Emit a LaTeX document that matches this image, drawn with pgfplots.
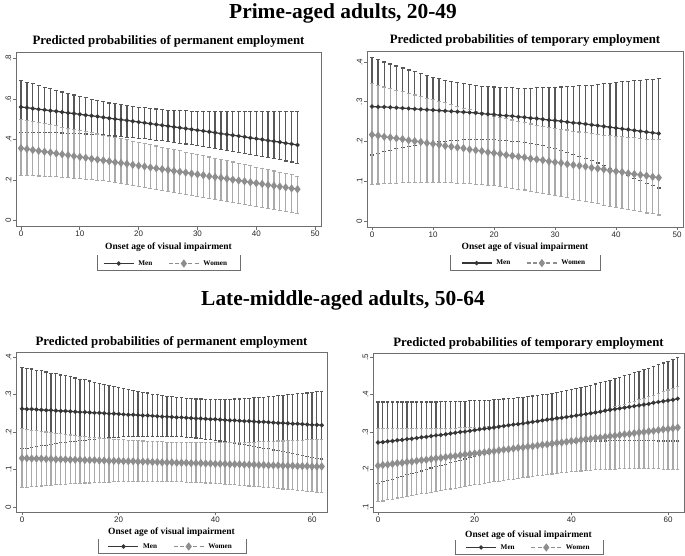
\documentclass[border=0pt]{standalone}
\usepackage{fontspec}
\setmainfont{Liberation Serif}
\setsansfont{Liberation Sans}
\usepackage{pgfplots}
\usepackage{pgfplotstable}
\pgfplotsset{compat=1.18}

\definecolor{menline}{HTML}{363636}
\definecolor{menbar}{HTML}{585858}
\definecolor{wline}{HTML}{8E8E8E}
\definecolor{wbar}{HTML}{AAAAAA}
\definecolor{framec}{HTML}{6E6E6E}

\pgfplotstableread{
x my mlo mhi wy wlo whi
0 0.560 0.436 0.690 0.357 0.222 0.500
1 0.557 0.436 0.682 0.353 0.222 0.494
2 0.553 0.435 0.674 0.348 0.221 0.489
3 0.549 0.435 0.666 0.344 0.220 0.483
4 0.546 0.434 0.658 0.340 0.219 0.478
5 0.542 0.434 0.650 0.336 0.218 0.472
6 0.539 0.433 0.642 0.331 0.216 0.467
7 0.535 0.432 0.634 0.327 0.214 0.461
8 0.531 0.431 0.626 0.323 0.212 0.455
9 0.528 0.430 0.619 0.318 0.210 0.450
10 0.524 0.429 0.611 0.314 0.208 0.444
11 0.520 0.427 0.605 0.310 0.205 0.438
12 0.517 0.425 0.598 0.305 0.202 0.433
13 0.513 0.424 0.592 0.301 0.199 0.427
14 0.509 0.422 0.586 0.297 0.196 0.421
15 0.505 0.420 0.580 0.293 0.192 0.415
16 0.501 0.417 0.576 0.288 0.188 0.409
17 0.498 0.415 0.571 0.284 0.184 0.404
18 0.494 0.412 0.567 0.280 0.179 0.398
19 0.490 0.410 0.563 0.275 0.175 0.392
20 0.486 0.407 0.559 0.271 0.170 0.386
21 0.482 0.404 0.556 0.267 0.165 0.380
22 0.478 0.400 0.553 0.262 0.160 0.374
23 0.474 0.397 0.550 0.258 0.155 0.368
24 0.470 0.393 0.547 0.254 0.150 0.362
25 0.466 0.390 0.545 0.250 0.145 0.356
26 0.462 0.386 0.543 0.245 0.140 0.350
27 0.458 0.382 0.542 0.241 0.135 0.344
28 0.454 0.378 0.541 0.237 0.130 0.338
29 0.450 0.374 0.540 0.232 0.125 0.332
30 0.446 0.370 0.539 0.228 0.120 0.326
31 0.442 0.365 0.538 0.224 0.115 0.320
32 0.438 0.361 0.538 0.219 0.110 0.314
33 0.434 0.356 0.537 0.215 0.105 0.307
34 0.429 0.352 0.537 0.211 0.100 0.301
35 0.425 0.347 0.537 0.207 0.095 0.295
36 0.421 0.342 0.537 0.202 0.090 0.289
37 0.417 0.337 0.537 0.198 0.085 0.283
38 0.413 0.332 0.537 0.194 0.080 0.277
39 0.408 0.327 0.537 0.189 0.075 0.270
40 0.404 0.322 0.537 0.185 0.070 0.264
41 0.400 0.316 0.537 0.181 0.065 0.258
42 0.395 0.311 0.537 0.176 0.060 0.251
43 0.391 0.305 0.537 0.172 0.055 0.245
44 0.387 0.300 0.537 0.168 0.050 0.239
45 0.382 0.294 0.538 0.164 0.045 0.232
46 0.378 0.289 0.538 0.159 0.041 0.226
47 0.373 0.283 0.538 0.155 0.036 0.219
}\tabTL

\pgfplotstableread{
x my mlo mhi wy wlo whi
0 0.288 0.166 0.411 0.217 0.092 0.345
1 0.287 0.170 0.406 0.215 0.093 0.341
2 0.287 0.174 0.400 0.212 0.094 0.337
3 0.286 0.178 0.395 0.210 0.095 0.333
4 0.285 0.182 0.390 0.208 0.095 0.329
5 0.284 0.185 0.385 0.206 0.096 0.325
6 0.283 0.188 0.380 0.203 0.096 0.321
7 0.282 0.191 0.375 0.201 0.097 0.317
8 0.281 0.194 0.371 0.199 0.097 0.313
9 0.280 0.196 0.366 0.196 0.097 0.309
10 0.279 0.198 0.362 0.194 0.097 0.305
11 0.278 0.200 0.358 0.192 0.097 0.301
12 0.277 0.201 0.354 0.189 0.096 0.297
13 0.276 0.202 0.351 0.187 0.096 0.292
14 0.275 0.203 0.348 0.185 0.095 0.288
15 0.274 0.204 0.345 0.183 0.095 0.284
16 0.273 0.204 0.343 0.180 0.094 0.280
17 0.272 0.205 0.341 0.178 0.092 0.276
18 0.270 0.205 0.339 0.176 0.091 0.272
19 0.269 0.204 0.338 0.173 0.090 0.268
20 0.268 0.204 0.337 0.171 0.089 0.264
21 0.266 0.203 0.336 0.169 0.087 0.261
22 0.265 0.202 0.335 0.166 0.085 0.257
23 0.264 0.201 0.335 0.164 0.082 0.254
24 0.262 0.199 0.334 0.162 0.080 0.250
25 0.261 0.198 0.334 0.160 0.078 0.247
26 0.259 0.195 0.334 0.157 0.075 0.244
27 0.258 0.193 0.335 0.155 0.072 0.241
28 0.256 0.190 0.335 0.153 0.070 0.238
29 0.254 0.186 0.336 0.150 0.067 0.236
30 0.253 0.183 0.336 0.148 0.064 0.233
31 0.251 0.178 0.337 0.146 0.061 0.231
32 0.249 0.173 0.338 0.143 0.058 0.229
33 0.247 0.168 0.339 0.141 0.055 0.226
34 0.246 0.163 0.340 0.139 0.052 0.224
35 0.244 0.158 0.341 0.137 0.049 0.222
36 0.242 0.152 0.342 0.134 0.046 0.220
37 0.240 0.146 0.344 0.132 0.043 0.218
38 0.238 0.140 0.345 0.130 0.040 0.216
39 0.236 0.133 0.347 0.127 0.037 0.215
40 0.234 0.127 0.348 0.125 0.034 0.213
41 0.232 0.121 0.350 0.123 0.031 0.212
42 0.230 0.114 0.351 0.120 0.029 0.210
43 0.228 0.108 0.353 0.118 0.026 0.209
44 0.226 0.102 0.354 0.116 0.023 0.208
45 0.224 0.095 0.356 0.114 0.020 0.206
46 0.222 0.089 0.357 0.111 0.018 0.205
47 0.220 0.083 0.359 0.109 0.015 0.204
}\tabTR

\pgfplotstableread{
x my mlo mhi wy wlo whi
0 0.262 0.155 0.373 0.130 0.052 0.209
1 0.261 0.157 0.370 0.130 0.053 0.207
2 0.261 0.159 0.368 0.129 0.054 0.205
3 0.260 0.161 0.365 0.129 0.055 0.204
4 0.259 0.163 0.363 0.129 0.056 0.202
5 0.258 0.165 0.360 0.128 0.057 0.200
6 0.258 0.167 0.357 0.128 0.058 0.198
7 0.257 0.169 0.355 0.127 0.059 0.197
8 0.256 0.171 0.352 0.127 0.060 0.195
9 0.256 0.172 0.350 0.127 0.061 0.194
10 0.255 0.174 0.347 0.126 0.062 0.192
11 0.254 0.175 0.344 0.126 0.063 0.191
12 0.253 0.177 0.341 0.126 0.063 0.189
13 0.253 0.178 0.339 0.125 0.064 0.188
14 0.252 0.180 0.336 0.125 0.064 0.186
15 0.251 0.181 0.333 0.125 0.065 0.185
16 0.251 0.182 0.330 0.124 0.065 0.184
17 0.250 0.183 0.327 0.124 0.066 0.183
18 0.249 0.184 0.325 0.123 0.066 0.182
19 0.249 0.185 0.322 0.123 0.067 0.181
20 0.248 0.186 0.319 0.123 0.067 0.180
21 0.247 0.187 0.316 0.122 0.067 0.179
22 0.246 0.187 0.314 0.122 0.067 0.178
23 0.246 0.188 0.311 0.122 0.068 0.178
24 0.245 0.188 0.309 0.121 0.068 0.177
25 0.244 0.189 0.306 0.121 0.068 0.176
26 0.244 0.189 0.304 0.121 0.068 0.175
27 0.243 0.189 0.301 0.120 0.068 0.175
28 0.242 0.189 0.299 0.120 0.068 0.174
29 0.241 0.189 0.297 0.119 0.068 0.174
30 0.241 0.189 0.295 0.119 0.068 0.173
31 0.240 0.188 0.294 0.119 0.068 0.173
32 0.239 0.188 0.292 0.118 0.067 0.172
33 0.239 0.187 0.291 0.118 0.067 0.172
34 0.238 0.186 0.290 0.118 0.066 0.171
35 0.237 0.185 0.289 0.117 0.066 0.171
36 0.236 0.184 0.288 0.117 0.065 0.171
37 0.236 0.183 0.288 0.117 0.065 0.171
38 0.235 0.181 0.287 0.116 0.064 0.171
39 0.234 0.180 0.287 0.116 0.064 0.171
40 0.234 0.178 0.287 0.115 0.063 0.171
41 0.233 0.176 0.287 0.115 0.062 0.171
42 0.232 0.174 0.287 0.115 0.061 0.171
43 0.231 0.172 0.287 0.114 0.060 0.172
44 0.231 0.170 0.288 0.114 0.059 0.172
45 0.230 0.168 0.288 0.114 0.058 0.172
46 0.229 0.166 0.289 0.113 0.057 0.172
47 0.229 0.164 0.290 0.113 0.056 0.173
48 0.228 0.162 0.291 0.113 0.055 0.173
49 0.227 0.159 0.292 0.112 0.054 0.174
50 0.227 0.157 0.293 0.112 0.053 0.174
51 0.226 0.155 0.294 0.111 0.052 0.175
52 0.225 0.152 0.295 0.111 0.051 0.175
53 0.224 0.150 0.297 0.111 0.050 0.176
54 0.224 0.147 0.298 0.110 0.048 0.176
55 0.223 0.145 0.299 0.110 0.047 0.177
56 0.222 0.143 0.300 0.110 0.046 0.177
57 0.222 0.140 0.302 0.109 0.045 0.178
58 0.221 0.138 0.303 0.109 0.043 0.178
59 0.220 0.135 0.304 0.109 0.042 0.179
60 0.219 0.133 0.306 0.108 0.041 0.179
61 0.219 0.130 0.307 0.108 0.039 0.180
62 0.218 0.128 0.309 0.108 0.038 0.180
}\tabBL

\pgfplotstableread{
x my mlo mhi wy wlo whi
0 0.272 0.163 0.380 0.210 0.114 0.309
1 0.273 0.167 0.380 0.212 0.116 0.309
2 0.275 0.171 0.380 0.213 0.119 0.309
3 0.276 0.174 0.380 0.215 0.121 0.309
4 0.278 0.178 0.380 0.217 0.124 0.309
5 0.279 0.182 0.380 0.218 0.126 0.309
6 0.281 0.186 0.380 0.220 0.128 0.309
7 0.282 0.189 0.380 0.221 0.130 0.309
8 0.284 0.193 0.380 0.223 0.133 0.309
9 0.286 0.196 0.380 0.225 0.135 0.309
10 0.287 0.200 0.380 0.226 0.137 0.309
11 0.289 0.204 0.380 0.228 0.139 0.309
12 0.291 0.207 0.380 0.230 0.141 0.309
13 0.292 0.211 0.381 0.231 0.144 0.310
14 0.294 0.214 0.381 0.233 0.146 0.310
15 0.296 0.218 0.381 0.235 0.148 0.310
16 0.298 0.221 0.381 0.236 0.150 0.310
17 0.300 0.224 0.382 0.238 0.152 0.311
18 0.301 0.228 0.382 0.240 0.155 0.311
19 0.303 0.231 0.383 0.241 0.157 0.312
20 0.305 0.234 0.383 0.243 0.159 0.312
21 0.307 0.237 0.384 0.244 0.161 0.313
22 0.309 0.240 0.385 0.246 0.163 0.314
23 0.310 0.242 0.385 0.248 0.165 0.314
24 0.312 0.245 0.386 0.249 0.167 0.315
25 0.314 0.248 0.387 0.251 0.169 0.316
26 0.316 0.250 0.388 0.253 0.171 0.317
27 0.318 0.252 0.389 0.254 0.173 0.318
28 0.320 0.255 0.390 0.256 0.174 0.319
29 0.321 0.257 0.392 0.258 0.176 0.321
30 0.323 0.259 0.393 0.259 0.178 0.322
31 0.325 0.261 0.394 0.261 0.180 0.323
32 0.327 0.262 0.396 0.262 0.182 0.325
33 0.329 0.264 0.398 0.264 0.183 0.326
34 0.331 0.265 0.399 0.266 0.185 0.328
35 0.333 0.267 0.401 0.267 0.187 0.330
36 0.335 0.268 0.403 0.269 0.188 0.332
37 0.337 0.269 0.406 0.271 0.190 0.334
38 0.338 0.270 0.408 0.272 0.191 0.336
39 0.340 0.271 0.410 0.274 0.193 0.338
40 0.342 0.272 0.413 0.276 0.194 0.340
41 0.344 0.273 0.416 0.277 0.195 0.343
42 0.346 0.274 0.419 0.279 0.196 0.346
43 0.348 0.274 0.422 0.281 0.197 0.348
44 0.350 0.275 0.425 0.282 0.198 0.351
45 0.352 0.276 0.428 0.284 0.199 0.354
46 0.354 0.276 0.431 0.285 0.200 0.357
47 0.357 0.276 0.435 0.287 0.200 0.360
48 0.359 0.277 0.438 0.289 0.201 0.363
49 0.361 0.277 0.442 0.290 0.201 0.367
50 0.363 0.277 0.446 0.292 0.202 0.370
51 0.365 0.277 0.450 0.294 0.202 0.374
52 0.367 0.277 0.454 0.295 0.202 0.378
53 0.369 0.277 0.458 0.297 0.202 0.382
54 0.371 0.277 0.462 0.299 0.202 0.386
55 0.373 0.277 0.466 0.300 0.202 0.390
56 0.375 0.277 0.470 0.302 0.202 0.394
57 0.378 0.277 0.475 0.303 0.202 0.398
58 0.380 0.276 0.479 0.305 0.202 0.403
59 0.382 0.276 0.484 0.307 0.201 0.407
60 0.384 0.276 0.488 0.308 0.201 0.412
61 0.386 0.276 0.493 0.310 0.201 0.416
62 0.389 0.276 0.498 0.312 0.201 0.421
}\tabBR

\pgfplotsset{
  panel/.style={
    scale only axis,
    anchor=south west,
    axis line style={framec, line width=0.8pt},
    tick style={framec, line width=0.7pt},
    tick align=outside,
    major tick length=3pt,
    xtick pos=bottom, ytick pos=left,
    ticklabel style={font=\sffamily\fontsize{8}{9}\selectfont, text=black!85},
    yticklabel style={rotate=90, anchor=south, inner sep=1.5pt},
    xticklabel style={inner sep=1.5pt},
    every axis title/.style={at={(0.5,1)}, anchor=center, font=\bfseries\fontsize{12.8}{14}\selectfont},
    every axis x label/.style={at={(0.5,0)}, anchor=center, font=\bfseries\fontsize{9.5}{11}\selectfont},
    legend style={draw=none, fill=none, anchor=center, legend columns=2,
      font=\bfseries\fontsize{7.2}{8}\selectfont, inner sep=0pt,
      /tikz/every odd column/.append style={column sep=2pt},
      /tikz/every even column/.append style={column sep=14pt}},
    legend image code/.code={\draw[mark repeat=2,mark phase=2,##1] plot coordinates {(0pt,0pt) (15pt,0pt) (30pt,0pt)};},
  },
  menbars/.style={draw=none, mark=none, forget plot,
    error bars/.cd, y dir=both, y explicit,
    error bar style={draw=menbar, solid, line width=1.25pt},
    error mark options={draw=menbar, solid, line width=1.1pt, mark size=#1, rotate=90}},
  wbars/.style={draw=none, mark=none, forget plot,
    error bars/.cd, y dir=both, y explicit,
    error bar style={draw=wbar, solid, line width=1.3pt},
    error mark options={draw=wbar, solid, line width=1.1pt, mark size=#1, rotate=90}},
  menl/.style={menline, line width=1.2pt, mark=*, mark size=1.5pt, mark options={solid, fill=menline}},
  wl/.style={wline, line width=1.2pt, dash pattern=on 4pt off 2.5pt, mark=diamond*, mark size=3.2pt, mark options={solid, fill=wline}},
}

\newcommand{\panelplots}[2]{%
  \addplot[menbars=#2] table[x=x, y=my, y error plus expr=\thisrow{mhi}-\thisrow{my}, y error minus expr=\thisrow{my}-\thisrow{mlo}] {#1};
  \addplot[wbars=#2] table[x=x, y=wy, y error plus expr=\thisrow{whi}-\thisrow{wy}, y error minus expr=\thisrow{wy}-\thisrow{wlo}] {#1};
  \addplot[menl] table[x=x, y=my] {#1};
  \addlegendentry{Men}
  \addplot[wl] table[x=x, y=wy] {#1};
  \addlegendentry{Women}
}

\begin{document}
\begin{tikzpicture}[x=1pt,y=1pt]
\path[use as bounding box] (0,0) rectangle (685,555);

\node[font=\bfseries\fontsize{21.4}{24}\selectfont] at (343,542) {Prime-aged adults, 20-49};
\node[font=\bfseries\fontsize{21.4}{24}\selectfont] at (343,255) {Late-middle-aged adults, 50-64};

% Top left
\begin{axis}[panel, at={(16pt,328.3pt)}, width=305pt, height=174pt,
  xmin=-0.85, xmax=51.0, ymin=-0.0296, ymax=0.8276,
  xtick={0,10,20,30,40,50}, xticklabels={0,10,20,30,40,50},
  ytick={0,0.2,0.4,0.6,0.8}, yticklabels={0,.2,.4,.6,.8},
  title={Predicted probabilities of permanent employment},
  title style={yshift=11.7pt},
  xlabel={Onset age of visual impairment},
  xlabel style={yshift=-20.5pt},
  legend style={at={(0.492,-0.2115)}}]
\panelplots{\tabTL}{2pt}
\end{axis}

% Top right
\begin{axis}[panel, at={(367pt,328pt)}, width=316pt, height=176pt,
  xmin=-0.82, xmax=50.98, ymin=-0.0151, ymax=0.4277,
  xtick={0,10,20,30,40,50}, xticklabels={0,10,20,30,40,50},
  ytick={0,0.1,0.2,0.3,0.4}, yticklabels={0,.1,.2,.3,.4},
  title={Predicted probabilities of temporary employment},
  title style={yshift=11pt},
  xlabel={Onset age of visual impairment},
  xlabel style={yshift=-20.5pt},
  legend style={at={(0.497,-0.205)}}]
\panelplots{\tabTR}{2pt}
\end{axis}

% Bottom left
\begin{axis}[panel, at={(16pt,43pt)}, width=311pt, height=160pt,
  xmin=-1.24, xmax=63.1, ymin=-0.0133, ymax=0.4133,
  xtick={0,20,40,60}, xticklabels={0,20,40,60},
  ytick={0,0.1,0.2,0.3,0.4}, yticklabels={0,.1,.2,.3,.4},
  title={Predicted probabilities of permanent employment},
  title style={yshift=9.5pt},
  xlabel={Onset age of visual impairment},
  xlabel style={yshift=-20.5pt},
  legend style={at={(0.498,-0.2156)}}]
\panelplots{\tabBL}{1.7pt}
\end{axis}

% Bottom right
\begin{axis}[panel, at={(373pt,43pt)}, width=311pt, height=159pt,
  xmin=-1.03, xmax=63.3, ymin=0.0867, ymax=0.5107,
  xtick={0,20,40,60}, xticklabels={0,20,40,60},
  ytick={0.1,0.2,0.3,0.4,0.5}, yticklabels={.1,.2,.3,.4,.5},
  title={Predicted probabilities of temporary employment},
  title style={yshift=10pt},
  xlabel={Onset age of visual impairment},
  xlabel style={yshift=-23pt},
  legend style={at={(0.5,-0.223)}}]
\panelplots{\tabBR}{1.7pt}
\end{axis}

% legend frames
\draw[framec, line width=0.7pt] (97,300) -- (97,285) -- (240,285) -- (240,300);
\draw[framec, line width=0.7pt] (450,300) -- (450,285) -- (600,285) -- (600,300);
\draw[framec, line width=0.7pt] (98,16) -- (98,2) -- (246,2) -- (246,16);
\draw[framec, line width=0.7pt] (455,15) -- (455,1) -- (603,1) -- (603,15);
\end{tikzpicture}
\end{document}
